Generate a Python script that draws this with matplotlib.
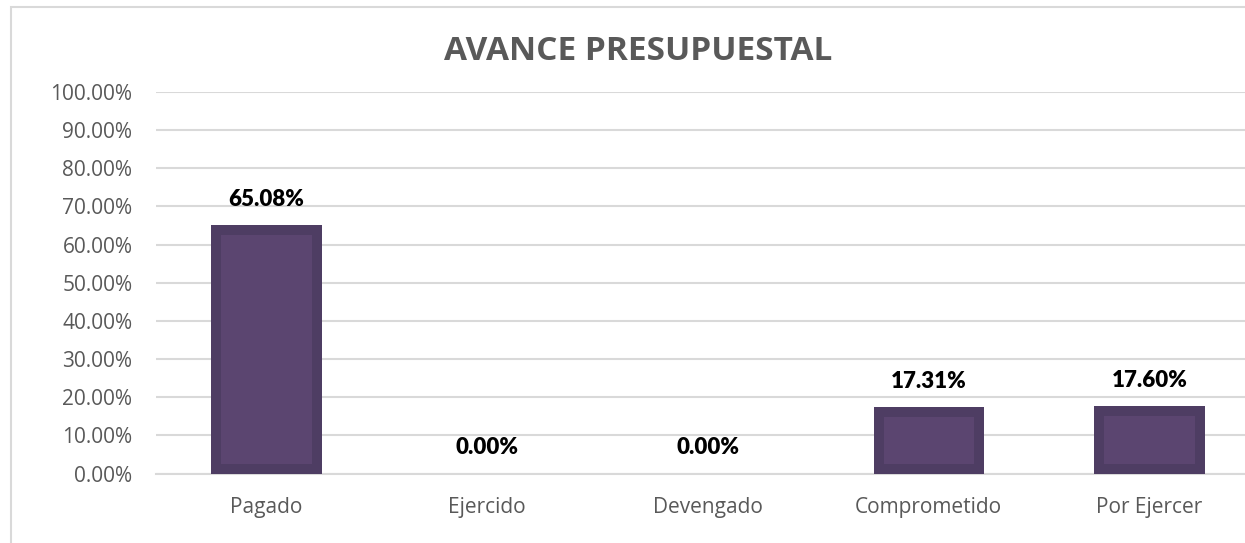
import matplotlib
matplotlib.use("Agg")
import matplotlib.pyplot as plt
from matplotlib.patches import Rectangle
from matplotlib.ticker import PercentFormatter, MultipleLocator
import numpy as np

categories = ["Pagado", "Ejercido", "Devengado", "Comprometido", "Por Ejercer"]
values = [0.6508, 0.0, 0.0, 0.1731, 0.1760]
labels = ["65.08%", "0.00%", "0.00%", "17.31%", "17.60%"]

EDGE = "#4E3D63"
FILL = "#5B4570"
GRID = "#D9D9D9"
TEXT = "#595959"


def main():
    fig = plt.figure(figsize=(12.45, 5.43), dpi=100)

    # outer chart frame (right/bottom are cut off in the reference)
    fig.patches.append(Rectangle((11 / 1245, -0.1), 1.2, 1 - 7 / 543 + 0.1,
                                 transform=fig.transFigure, fill=False,
                                 edgecolor=GRID, linewidth=1.5))

    ax = fig.add_axes([156 / 1245, 1 - 473.5 / 543, 1104 / 1245, 381.5 / 543])
    x = np.arange(len(categories))
    vals = np.array(values)

    # bar with darker border: outer bar + inner lighter bar
    bx = 10 / 221
    by = 10 / 381.5
    ax.bar(x, vals, width=0.5, color=EDGE, zorder=3)
    inner_h = np.clip(vals - 2 * by, 0, None)
    ax.bar(x, inner_h, bottom=by, width=0.5 - 2 * bx, color=FILL, zorder=4)

    for xi, v, lab in zip(x, vals, labels):
        ax.annotate(lab, (xi, v), xytext=(0, 11), textcoords="offset points",
                    ha="center", va="bottom", fontsize=16, fontweight="heavy",
                    family="Lato", color="black")

    ax.set_xlim(-0.5, len(categories) - 0.5)
    ax.set_ylim(0, 1)
    ax.yaxis.set_major_locator(MultipleLocator(0.1))
    ax.yaxis.set_major_formatter(PercentFormatter(1.0, decimals=2))
    ax.set_xticks(x)
    ax.set_xticklabels(categories)
    ax.grid(axis="y", color=GRID, linewidth=1.5, zorder=0)
    for s in ["top", "right", "left"]:
        ax.spines[s].set_visible(False)
    ax.spines["bottom"].set_color(GRID)
    ax.spines["bottom"].set_linewidth(1.5)
    ax.tick_params(axis="both", length=0, labelcolor=TEXT, labelsize=15)
    ax.tick_params(axis="y", pad=17)
    ax.tick_params(axis="x", pad=17)
    for t in ax.get_xticklabels() + ax.get_yticklabels():
        t.set_family("Open Sans")

    fig.text(638 / 1245, 1 - 51 / 543, "AVANCE PRESUPUESTAL", ha="center",
             va="center", fontsize=24, fontweight="bold", color=TEXT,
             family="Open Sans")

    fig.savefig("out.png", dpi=100)


if __name__ == "__main__":
    main()
